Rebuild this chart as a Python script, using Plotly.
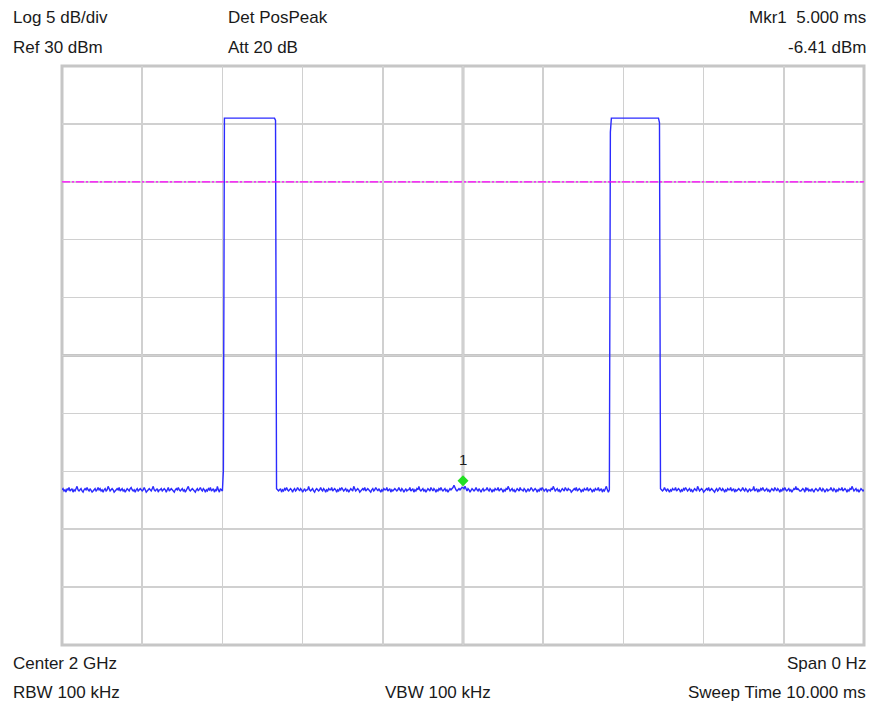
import numpy as np
import plotly.graph_objects as go

# ---------------- data ----------------
sample_step_ms = 0.0125          # 10 ms sweep, 801 trace points
ref_level_dbm = 30
db_per_div = 5
display_line_dbm = 20
marker_time_ms = 5.0
marker_level_dbm = -6.41

noise_a = [
    -6.6, -6.5, -6.7, -6.6, -6.8, -6.5, -6.6, -6.4, -6.7, -6.6, -6.5, -6.8, -6.6, -6.7, -6.5, -6.3, -6.6, -6.7, -6.6, -6.5,
    -6.7, -6.8, -6.6, -6.5, -6.6, -6.4, -6.6, -6.7, -6.5, -6.6, -6.8, -6.7, -6.6, -6.5, -6.7, -6.6, -6.4, -6.6, -6.5, -6.7,
    -6.6, -6.8, -6.6, -6.5, -6.7, -6.6, -6.3, -6.6, -6.7, -6.6, -6.5, -6.6, -6.8, -6.7, -6.6, -6.5, -6.6, -6.4, -6.7, -6.6,
    -6.5, -6.7, -6.6, -6.8, -6.6, -6.5, -6.6, -6.7, -6.5, -6.4, -6.6, -6.7, -6.6, -6.8, -6.6, -6.5, -6.7, -6.6, -6.5, -6.6,
    -6.7, -6.6, -6.4, -6.6, -6.8, -6.7, -6.6, -6.5, -6.6, -6.7, -6.5, -6.3, -6.6, -6.7, -6.6, -6.5, -6.8, -6.6, -6.6, -6.5,
    -6.7, -6.6, -6.5, -6.6, -6.8, -6.6, -6.4, -6.7, -6.6, -6.5, -6.6, -6.7, -6.8, -6.6, -6.5, -6.6, -6.4, -6.6, -6.7, -6.6,
    -6.5, -6.7, -6.6, -6.8, -6.6, -6.5, -6.3, -6.6, -6.7, -6.6, -6.5, -6.6, -6.7, -6.8, -6.6, -6.5, -6.7, -6.6, -6.4, -6.6,
    -6.7, -6.5, -6.6, -6.8, -6.6, -6.7, -6.5, -6.6, -6.4, -6.7, -6.6, -6.5, -6.8, -6.6, -6.7, -6.3, -6.6, -6.8, -6.5, -6.6,
    -6.7,
]

pulse_1 = [
    -4.9,
    25.5, 25.5, 25.5, 25.5, 25.5, 25.5, 25.5, 25.5, 25.5, 25.5,
    25.5, 25.5, 25.5, 25.5, 25.5, 25.5, 25.5, 25.5, 25.5, 25.5,
    25.5, 25.5, 25.5, 25.5, 25.5, 25.5, 25.5, 25.5, 25.5, 25.5,
    25.5, 25.5, 25.5, 25.5, 25.5, 25.5, 25.5, 25.5, 25.5, 25.5,
    25.5, 25.5, 25.5, 25.5, 25.5, 25.5, 25.5, 25.5, 25.5, 25.5,
    25.5,
    25.3,
]

noise_b = [
    -6.5, -6.6, -6.7, -6.6, -6.5, -6.8, -6.6, -6.7, -6.5, -6.6, -6.4, -6.6, -6.7, -6.6, -6.5, -6.6, -6.8, -6.6, -6.5, -6.7,
    -6.6, -6.4, -6.6, -6.7, -6.5, -6.6, -6.8, -6.6, -6.5, -6.7, -6.6, -6.6, -6.3, -6.6, -6.7, -6.6, -6.5, -6.7, -6.8, -6.6,
    -6.5, -6.6, -6.7, -6.6, -6.4, -6.6, -6.7, -6.5, -6.6, -6.8, -6.6, -6.7, -6.5, -6.6, -6.6, -6.4, -6.7, -6.6, -6.5, -6.6,
    -6.8, -6.6, -6.7, -6.5, -6.6, -6.4, -6.6, -6.7, -6.6, -6.5, -6.7, -6.6, -6.8, -6.6, -6.5, -6.6, -6.7, -6.3, -6.6, -6.7,
    -6.6, -6.5, -6.6, -6.8, -6.7, -6.6, -6.5, -6.6, -6.4, -6.7, -6.6, -6.5, -6.6, -6.7, -6.8, -6.6, -6.5, -6.7, -6.6, -6.4,
    -6.6, -6.7, -6.5, -6.6, -6.8, -6.6, -6.7, -6.5, -6.6, -6.6, -6.4, -6.7, -6.6, -6.5, -6.8, -6.6, -6.7, -6.6, -6.5, -6.6,
    -6.7, -6.6, -6.4, -6.6, -6.7, -6.5, -6.6, -6.8, -6.6, -6.5, -6.7, -6.6, -6.6, -6.4, -6.7, -6.6, -6.5, -6.8, -6.6, -6.7,
    -6.5, -6.6, -6.3, -6.6, -6.7, -6.6, -6.5, -6.7, -6.6, -6.8, -6.6, -6.5, -6.6, -6.7, -6.4, -6.6, -6.7, -6.5, -6.6, -6.8,
    -6.6, -6.7, -6.5, -6.6, -6.4, -6.6, -6.7, -6.6, -6.5, -6.7, -6.6, -6.8, -6.6, -6.5, -6.6, -6.5, -6.4, -6.2, -6.5, -6.6,
    -6.7, -6.6, -6.5, -6.6, -6.5, -6.4, -6.41, -6.5, -6.3, -6.6, -6.7, -6.5, -6.6, -6.8, -6.6, -6.5, -6.6, -6.7, -6.6, -6.4,
    -6.6, -6.7, -6.5, -6.6, -6.8, -6.6, -6.5, -6.7, -6.6, -6.6, -6.4, -6.6, -6.7, -6.5, -6.6, -6.8, -6.6, -6.7, -6.5, -6.6,
    -6.6, -6.4, -6.7, -6.6, -6.5, -6.6, -6.8, -6.6, -6.7, -6.5, -6.6, -6.3, -6.6, -6.7, -6.6, -6.5, -6.7, -6.6, -6.8, -6.6,
    -6.5, -6.6, -6.7, -6.4, -6.6, -6.6, -6.7, -6.5, -6.6, -6.8, -6.6, -6.5, -6.7, -6.6, -6.4, -6.6, -6.7, -6.6, -6.5, -6.6,
    -6.8, -6.6, -6.7, -6.5, -6.6, -6.4, -6.6, -6.7, -6.6, -6.5, -6.8, -6.6, -6.6, -6.7, -6.5, -6.6, -6.3, -6.6, -6.7, -6.6,
    -6.5, -6.7, -6.6, -6.8, -6.6, -6.5, -6.6, -6.7, -6.4, -6.6, -6.7, -6.5, -6.6, -6.6, -6.8, -6.7, -6.6, -6.5, -6.6, -6.4,
    -6.7, -6.6, -6.5, -6.6, -6.8, -6.6, -6.7, -6.5, -6.6, -6.6, -6.4, -6.7, -6.6, -6.5, -6.6, -6.8, -6.6, -6.7, -6.5, -6.6,
    -6.6, -6.4, -6.7, -6.6, -6.5, -6.8, -6.6, -6.7, -6.5, -6.3, -6.6, -6.8, -6.6,
]

pulse_2 = [
    24.3,
    25.5, 25.5, 25.5, 25.5, 25.5, 25.5, 25.5, 25.5, 25.5, 25.5,
    25.5, 25.5, 25.5, 25.5, 25.5, 25.5, 25.5, 25.5, 25.5, 25.5,
    25.5, 25.5, 25.5, 25.5, 25.5, 25.5, 25.5, 25.5, 25.5, 25.5,
    25.5, 25.5, 25.5, 25.5, 25.5, 25.5, 25.5, 25.5, 25.5, 25.5,
    25.5, 25.5, 25.5, 25.5, 25.5, 25.5, 25.5, 25.5,
    25.1,
]

noise_c = [
    -6.5, -6.6, -6.7, -6.6, -6.4, -6.6, -6.7, -6.5, -6.6, -6.8, -6.6, -6.7, -6.5, -6.6, -6.6, -6.4, -6.7, -6.6, -6.5, -6.6,
    -6.8, -6.6, -6.7, -6.5, -6.6, -6.4, -6.6, -6.7, -6.6, -6.5, -6.7, -6.6, -6.8, -6.6, -6.5, -6.6, -6.7, -6.3, -6.6, -6.7,
    -6.6, -6.5, -6.6, -6.8, -6.7, -6.6, -6.5, -6.6, -6.4, -6.7, -6.6, -6.5, -6.6, -6.7, -6.8, -6.6, -6.5, -6.7, -6.6, -6.4,
    -6.6, -6.7, -6.5, -6.6, -6.8, -6.6, -6.7, -6.5, -6.6, -6.6, -6.4, -6.7, -6.6, -6.5, -6.8, -6.6, -6.7, -6.6, -6.5, -6.6,
    -6.7, -6.6, -6.4, -6.6, -6.7, -6.5, -6.6, -6.8, -6.6, -6.5, -6.7, -6.6, -6.6, -6.3, -6.7, -6.6, -6.5, -6.8, -6.6, -6.7,
    -6.5, -6.6, -6.4, -6.6, -6.7, -6.6, -6.5, -6.7, -6.6, -6.8, -6.6, -6.5, -6.6, -6.7, -6.4, -6.6, -6.7, -6.5, -6.6, -6.8,
    -6.6, -6.7, -6.5, -6.6, -6.4, -6.6, -6.7, -6.6, -6.5, -6.7, -6.6, -6.8, -6.6, -6.5, -6.6, -6.3, -6.6, -6.5, -6.6, -6.7,
    -6.7, -6.6, -6.5, -6.6, -6.8, -6.4, -6.6, -6.5, -6.7, -6.6, -6.7, -6.5, -6.6, -6.8, -6.6, -6.5, -6.6, -6.7, -6.6, -6.4,
    -6.6, -6.7, -6.5, -6.6, -6.8, -6.6, -6.5, -6.7, -6.6, -6.6, -6.4, -6.6, -6.7, -6.5, -6.6, -6.8, -6.6, -6.7, -6.5, -6.6,
    -6.6, -6.4, -6.7, -6.6, -6.5, -6.6, -6.8, -6.6, -6.7, -6.5, -6.6, -6.3, -6.6, -6.7, -6.6, -6.5, -6.7, -6.6, -6.8, -6.6,
    -6.5, -6.6, -6.7, -6.6,
]

header_left = ["Log 5 dB/div", "Ref 30 dBm"]
header_mid = ["Det PosPeak", "Att 20 dB"]
header_right = ["Mkr1  5.000 ms", "-6.41 dBm"]
footer_left = ["Center 2 GHz", "RBW 100 kHz"]
footer_mid = ["", "VBW 100 kHz"]
footer_right = ["Span 0 Hz", "Sweep Time 10.000 ms"]

# ---------------- build trace ----------------
level_dbm = noise_a + pulse_1 + noise_b + pulse_2 + noise_c
time_ms = np.arange(len(level_dbm)) * sample_step_ms
bottom_dbm = ref_level_dbm - 10 * db_per_div

W, H = 871, 706
L, R, T, B = 62, 7, 66, 61
pw, ph = W - L - R, H - T - B

FONT = "Liberation Sans, Arial, sans-serif"
FS = 17
GRID = "#d0d0d0"
FRAME = "#c6c6c6"
TEXT = "#1a1a1a"

fig = go.Figure()
fig.add_trace(go.Scatter(
    x=time_ms, y=level_dbm, mode="lines",
    line=dict(color="#2b2bff", width=1.4),
    hoverinfo="skip", showlegend=False,
))

# display line
fig.add_shape(type="line", xref="paper", yref="y", x0=0, x1=1,
              y0=display_line_dbm, y1=display_line_dbm,
              line=dict(color="#ff00ff", width=1.3, dash="8px,2px,2px,2px"),
              layer="above")

# centre graticule lines
fig.add_shape(type="line", xref="x", yref="paper", x0=5, x1=5, y0=0, y1=1,
              line=dict(color=FRAME, width=3), layer="below")
fig.add_shape(type="line", xref="paper", yref="y", x0=0, x1=1,
              y0=ref_level_dbm - 5 * db_per_div, y1=ref_level_dbm - 5 * db_per_div,
              line=dict(color=FRAME, width=3), layer="below")
# frame
fig.add_shape(type="rect", xref="paper", yref="paper", x0=0, x1=1, y0=0, y1=1,
              line=dict(color=FRAME, width=3), layer="below")

# marker diamond (drawn just above the trace point) and label
fig.add_shape(type="path", xref="x", yref="y",
              xsizemode="pixel", ysizemode="pixel",
              xanchor=marker_time_ms, yanchor=marker_level_dbm,
              path="M 0 1.5 L 5.5 7 L 0 12.5 L -5.5 7 Z",
              fillcolor="#22e022", line=dict(width=0), layer="above")
fig.add_annotation(x=marker_time_ms, y=marker_level_dbm, xref="x", yref="y",
                   text="1", showarrow=False, yshift=28, yanchor="middle",
                   font=dict(family=FONT, size=15, color=TEXT))


def px_x(px):
    return (px - L) / pw


def px_y(py):
    return (H - B - py) / ph


rows_top = [18, 47.5]
rows_bot = [663, 692.5]
for i in range(2):
    for txt, xpx, anc, ypx in [
        (header_left[i], 11, "left", rows_top[i]),
        (header_mid[i], 226, "left", rows_top[i]),
        (header_right[i], 868, "right", rows_top[i]),
        (footer_left[i], 11, "left", rows_bot[i]),
        (footer_mid[i], 383, "left", rows_bot[i]),
        (footer_right[i], 868, "right", rows_bot[i]),
    ]:
        if not txt:
            continue
        fig.add_annotation(x=px_x(xpx), y=px_y(ypx), xref="paper", yref="paper",
                           text=txt, showarrow=False, xanchor=anc, yanchor="middle",
                           font=dict(family=FONT, size=FS, color=TEXT))

fig.update_layout(
    width=W, height=H,
    margin=dict(l=L, r=R, t=T, b=B, pad=0),
    paper_bgcolor="white", plot_bgcolor="white",
    showlegend=False,
    xaxis=dict(range=[0, 10], dtick=1, tick0=0, showgrid=True, gridcolor=GRID,
               gridwidth=1.5, zeroline=False, showticklabels=False, ticks="",
               showline=False, fixedrange=True),
    yaxis=dict(range=[bottom_dbm, ref_level_dbm], dtick=db_per_div, tick0=0,
               showgrid=True, gridcolor=GRID, gridwidth=1.5, zeroline=False,
               showticklabels=False, ticks="", showline=False, fixedrange=True),
)

fig.write_html(
    "out.html",
    config={"displayModeBar": False, "staticPlot": True},
    post_script="document.body.style.margin='0';document.body.style.overflow='hidden';",
)
